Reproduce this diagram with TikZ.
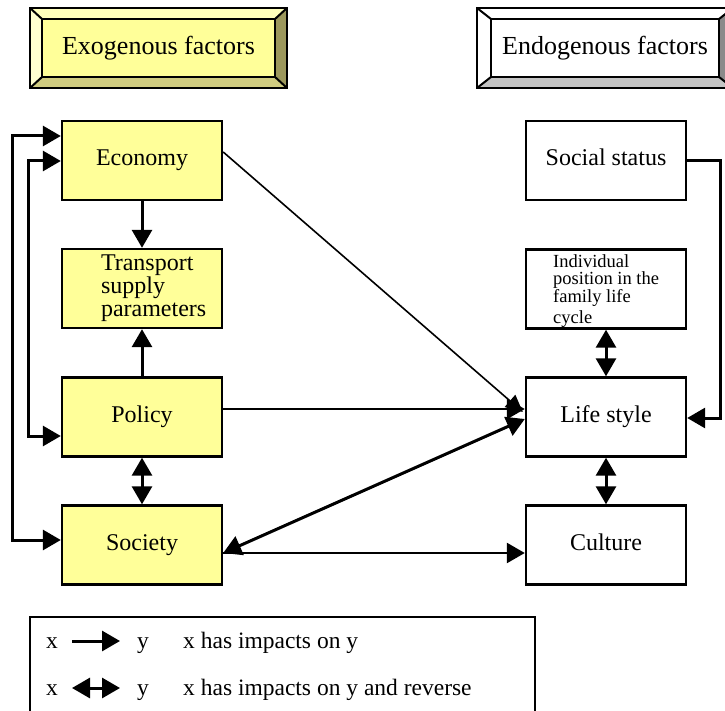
\documentclass[tikz,border=0pt]{standalone}
\usepackage{fontspec}
\setmainfont{Liberation Serif}
\usetikzlibrary{arrows.meta}
\definecolor{exo}{HTML}{FFFF99}
\definecolor{exotop}{HTML}{FFFFBB}
\definecolor{exoleft}{HTML}{FFFFD0}
\definecolor{exobot}{HTML}{D0CC80}
\definecolor{exoright}{HTML}{9C985C}
\definecolor{endobot}{HTML}{C4C4C4}
\definecolor{endoright}{HTML}{8A8A8A}
\begin{document}
\begin{tikzpicture}[x=1pt,y=-1pt,
  box/.style={draw=black, line width=2.4pt, minimum width=160pt, minimum height=79pt, inner sep=0pt, text height=16pt, text depth=5pt, font=\fontsize{24}{23}\selectfont},
  ybox/.style={box, fill=exo},
  wbox/.style={box, fill=white},
  bigtip/.style={-{Triangle[length=18pt,width=20pt]}},
  bibigtip/.style={{Triangle[length=18pt,width=20pt]}-{Triangle[length=18pt,width=20pt]}},
  thick3/.style={line width=3pt},
  hdrtext/.style={font=\fontsize{26}{28}\selectfont},
  legtext/.style={font=\fontsize{23.5}{25}\selectfont, anchor=base, inner sep=0pt},
  bevel/.style={draw=black, line width=2pt, line join=miter}
]
\useasboundingbox (0,0) rectangle (725,711);
\clip (0,0) rectangle (725,711);

% ---- header: Exogenous factors
\fill[exotop] (30,8) -- (287,8) -- (275,19) -- (42,19) -- cycle;
\fill[exoleft] (30,8) -- (42,19) -- (42,77) -- (30,88) -- cycle;
\fill[exobot] (30,88) -- (42,77) -- (275,77) -- (287,88) -- cycle;
\fill[exoright] (287,8) -- (287,88) -- (275,77) -- (275,19) -- cycle;
\fill[exo] (42,19) rectangle (275,77);
\draw[bevel] (30,8) rectangle (287,88);
\draw[bevel] (42,19) rectangle (275,77);
\draw[bevel] (30,8) -- (42,19) (287,8) -- (275,19) (30,88) -- (42,77) (287,88) -- (275,77);
\node[hdrtext] (exohdr) at (158.5,48) {Exogenous factors};

% ---- header: Endogenous factors
\fill[white] (477,8) -- (733,8) -- (719,19) -- (491,19) -- cycle;
\fill[white] (477,8) -- (491,19) -- (491,77) -- (477,88) -- cycle;
\fill[endobot] (477,88) -- (491,77) -- (719,77) -- (733,88) -- cycle;
\fill[endoright] (733,8) -- (733,88) -- (719,77) -- (719,19) -- cycle;
\fill[white] (491,19) rectangle (719,77);
\draw[bevel] (477,8) rectangle (733,88);
\draw[bevel] (491,19) rectangle (719,77);
\draw[bevel] (477,8) -- (491,19) (733,8) -- (719,19) (477,88) -- (491,77) (733,88) -- (719,77);
\node[hdrtext] (endohdr) at (605,48) {Endogenous factors};

% ---- left column
\node[ybox] (eco) at (142,160.5) {Economy};
\node[ybox] (tra) at (142,288.5) {};
\node[font=\fontsize{24}{23}\selectfont, align=left, anchor=west, inner sep=0pt] (tratext) at ([xshift=40pt]tra.west) {Transport\\supply\\parameters};
\node[ybox] (pol) at (142,417) {Policy};
\node[ybox] (soc) at (142,545) {Society};

% ---- right column
\node[wbox] (sst) at (606,160.5) {Social status};
\node[wbox] (ind) at (606,289) {};
\node[font=\fontsize{18.5}{17.5}\selectfont, align=left, anchor=north west, inner sep=0pt] (indtext) at (553,254) {Individual\\position in the\\family life\\[4pt]cycle};
\node[wbox] (lif) at (606,417) {Life style};
\node[wbox] (cul) at (606,545) {Culture};

% ---- connectors
\draw[thick3, bigtip] (eco.south) -- (tra.north);
\draw[thick3, bigtip] (pol.north) -- (tra.south);
\draw[thick3, bibigtip] (pol.south) -- (soc.north);
\draw[thick3, bibigtip] (ind.south) -- (lif.north);
\draw[thick3, bibigtip] (lif.south) -- (cul.north);

\draw[thick3, bibigtip] ([yshift=24.5pt]eco.west) -- ++(-48,0) |- ([yshift=5pt]soc.west);
\draw[thick3, bibigtip] ([yshift=-0.5pt]eco.west) -- ++(-32,0) |- ([yshift=-19pt]pol.west);

\draw[line width=1.6pt, -{Triangle[length=17pt,width=16pt]}] ([yshift=8.5pt]eco.east) -- ([xshift=-2pt,yshift=5pt]lif.west);
\draw[line width=2.6pt, bigtip] ([yshift=8pt]pol.east) -- ([yshift=8pt]lif.west);
\draw[thick3, bibigtip] ([yshift=-8pt]soc.east) -- ([yshift=-2pt]lif.west);
\draw[line width=2.6pt, bigtip] ([yshift=-8pt]soc.east) -- ([yshift=-8pt]cul.west);
\draw[thick3, bigtip] (sst.east) -- ++(33,0) |- ([yshift=-1pt]lif.east);

% ---- legend
\draw[line width=2.4pt] (30,617) rectangle (535,740);
\node[legtext] (lx1) at (52,648) {x};
\node[legtext] (ly1) at (143,648) {y};
\coordinate (la1) at (72,641);
\coordinate (lb1) at (120,641);
\draw[thick3, bigtip] (la1) -- (lb1);
\node[legtext, anchor=base west] (lt1) at (183,648) {x has impacts on y};
\node[legtext] (lx2) at (52,695) {x};
\node[legtext] (ly2) at (143,695) {y};
\coordinate (la2) at (72,688);
\coordinate (lb2) at (120,688);
\draw[thick3, bibigtip] (la2) -- (lb2);
\node[legtext, anchor=base west] (lt2) at (183,695) {x has impacts on y and reverse};
\end{tikzpicture}
\end{document}
